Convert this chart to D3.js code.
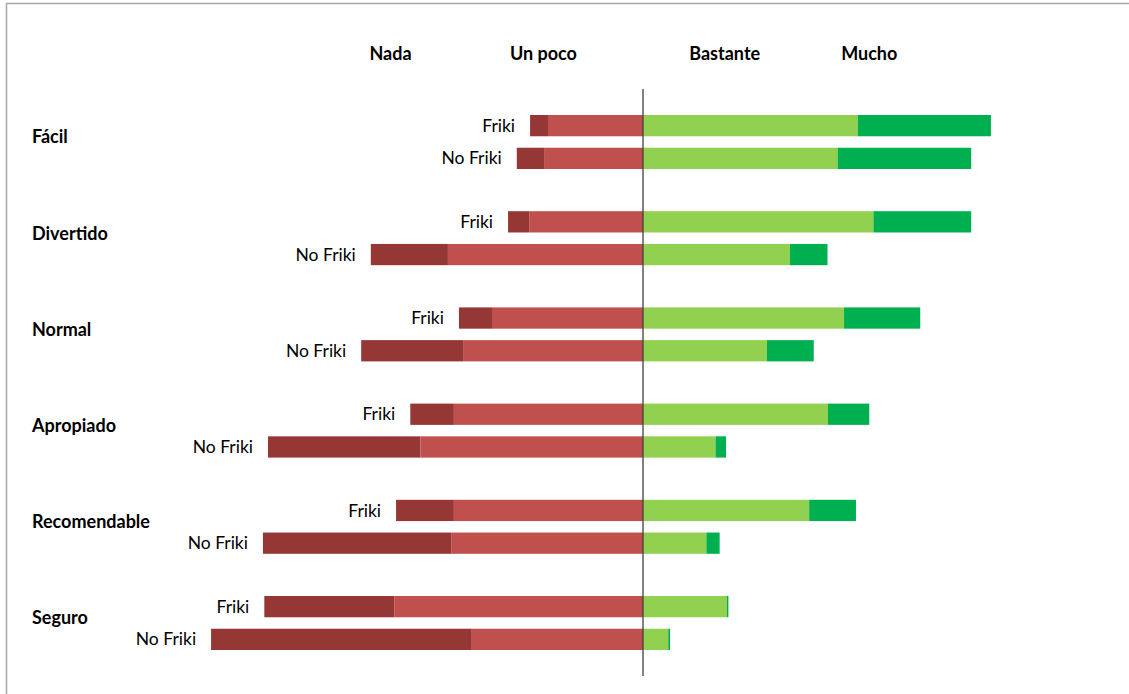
<!DOCTYPE html>
<html>
<head>
<meta charset="utf-8">
<title>Friki / No Friki</title>
<script src="https://d3js.org/d3.v7.min.js"></script>
<style>
  body { margin: 0; background: #fff; }
  text { font-family: Lato, "Open Sans", sans-serif; }
</style>
</head>
<body>
<svg id="chart" width="1129" height="694"></svg>
<script>
// categories and groups
var categories = ["Fácil", "Divertido", "Normal", "Apropiado", "Recomendable", "Seguro"];
var groups = ["Friki", "No Friki"];
var levels = ["Nada", "Un poco", "Bastante", "Mucho"];

// percentages, one array per answer level, rows = category x group (Friki, No Friki)
var nada     = [3.9, 6.1,  4.6, 16.8,  7.2, 22.2,  9.5, 33.2, 12.6, 41.0, 28.3, 56.8];
var unPoco   = [20.7, 21.4, 24.8, 42.5, 32.9, 39.2, 41.2, 48.5, 41.2, 41.8, 54.2, 37.3];
var bastante = [46.8, 42.4, 50.2, 32.0, 43.8, 27.0, 40.3, 15.8, 36.2, 13.8, 18.3, 5.5];
var mucho    = [29.0, 29.1, 21.3,  8.2, 16.6, 10.2,  9.0,  2.3, 10.2,  2.9,  0.3, 0.4];

var colors = ["#953735", "#c0504d", "#92d050", "#00b050"];

var svg = d3.select("#chart");

// frame lines (top & left)
svg.append("line").attr("x1", 6).attr("x2", 1129).attr("y1", 3.5).attr("y2", 3.5)
  .attr("stroke", "#a6a6a6").attr("stroke-width", 1.5);
svg.append("line").attr("x1", 6.5).attr("x2", 6.5).attr("y1", 3).attr("y2", 694)
  .attr("stroke", "#a6a6a6").attr("stroke-width", 1.5);

var x = d3.scaleLinear().domain([-100, 100]).range([184, 1102]);
var yGroup = d3.scalePoint().domain(categories).range([142, 623]);
var yRow = d3.scaleBand().domain(groups).range([-27, 27]).paddingInner(0.35);

// build rows
var rows = [];
categories.forEach(function(c, i) {
  groups.forEach(function(g, j) {
    var k = i * 2 + j;
    rows.push({cat: c, grp: g, vals: [nada[k], unPoco[k], bastante[k], mucho[k]]});
  });
});

// segments: negatives stacked leftwards from 0 (Un poco nearest center), positives rightwards
rows.forEach(function(r) {
  r.top = yGroup(r.cat) + yRow(r.grp);
  r.segs = [
    {x0: -(r.vals[0] + r.vals[1]), x1: -r.vals[1], c: colors[0]},
    {x0: -r.vals[1], x1: 0, c: colors[1]},
    {x0: 0, x1: r.vals[2], c: colors[2]},
    {x0: r.vals[2], x1: r.vals[2] + r.vals[3], c: colors[3]}
  ];
});

var rowG = svg.append("g").selectAll("g")
  .data(rows).enter().append("g");

rowG.selectAll("rect")
  .data(function(d) { return d.segs.map(function(s) { return {s: s, top: d.top}; }); })
  .enter().append("rect")
  .attr("x", function(d) { return x(d.s.x0); })
  .attr("y", function(d) { return d.top; })
  .attr("width", function(d) { return Math.max(0, x(d.s.x1) - x(d.s.x0)); })
  .attr("height", yRow.bandwidth())
  .attr("fill", function(d) { return d.s.c; });

// row labels (Friki / No Friki)
rowG.append("text")
  .attr("x", function(d) { return x(d.segs[0].x0) - 15; })
  .attr("y", function(d) { return d.top + yRow.bandwidth() / 2; })
  .attr("dy", "0.35em")
  .attr("text-anchor", "end")
  .style("font-size", "17.5px")
  .style("fill", "#000")
  .text(function(d) { return d.grp; });

// category labels
svg.append("g").selectAll("text")
  .data(categories).enter().append("text")
  .attr("x", 32)
  .attr("y", function(d) { return yGroup(d) - 5; })
  .attr("dy", "0.35em")
  .style("font-size", "18px")
  .style("font-weight", "bold")
  .text(function(d) { return d; });

// column headers
var headerAt = [-55, -21.7, 17.8, 49.3];
svg.append("g").selectAll("text")
  .data(levels).enter().append("text")
  .attr("x", function(d, i) { return x(headerAt[i]); })
  .attr("y", 54)
  .attr("dy", "0.35em")
  .attr("text-anchor", "middle")
  .style("font-size", "18px")
  .style("font-weight", "bold")
  .text(function(d) { return d; });

// center line
svg.append("line")
  .attr("x1", x(0)).attr("x2", x(0))
  .attr("y1", 89).attr("y2", 676)
  .attr("stroke", "#3f3f3f").attr("stroke-width", 1.3);
</script>
</body>
</html>
